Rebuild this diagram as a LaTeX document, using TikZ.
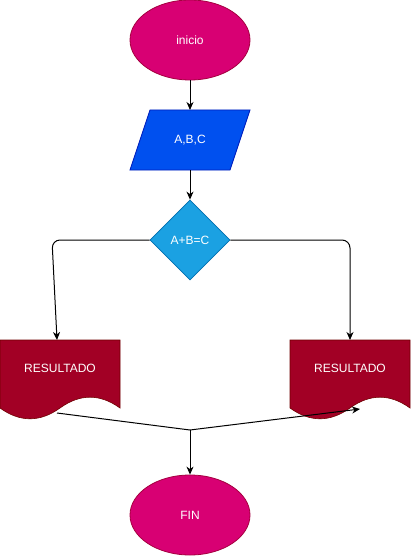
\documentclass[tikz,border=0pt]{standalone}
\usepackage{fontspec}
\setmainfont{Liberation Sans}
\usetikzlibrary{shapes.geometric,arrows.meta}
\definecolor{magfill}{HTML}{D80073}
\definecolor{magline}{HTML}{A50040}
\definecolor{bluefill}{HTML}{0050EF}
\definecolor{blueline}{HTML}{001DBC}
\definecolor{cyanfill}{HTML}{1BA1E2}
\definecolor{cyanline}{HTML}{006EAF}
\definecolor{docfill}{HTML}{A20025}
\definecolor{docline}{HTML}{6F0000}
\tikzset{
  lbl/.style={text=white,font=\fontsize{12}{14}\selectfont,inner sep=0pt},
  term/.style={ellipse,draw=magline,fill=magfill,minimum width=120pt,minimum height=80pt,inner sep=0pt,line width=0.8pt,text=white,font=\fontsize{12}{14}\selectfont},
  dec/.style={diamond,draw=cyanline,fill=cyanfill,minimum width=80pt,minimum height=80pt,inner sep=0pt,line width=0.8pt,text=white,font=\fontsize{12}{14}\selectfont},
  conn/.style={draw=black,line width=1pt,-{Stealth[length=8pt,width=7pt,inset=2.5pt]}},
  plain/.style={draw=black,line width=1pt},
  docshape/.style={fill=docfill,draw=docline,line width=0.6pt},
  io/.style={fill=bluefill,draw=blueline,line width=0.8pt}
}
\begin{document}
\begin{tikzpicture}[x=1pt,y=-1pt]
\useasboundingbox (0,0) rectangle (411,556);
% start
\node[term] (ini) at (190,40) {inicio};
% input parallelogram
\path[io] (150,110) -- (250,110) -- (230,170) -- (130,170) -- cycle;
\node[lbl] (abc) at (190,140) {A,B,C};
\coordinate (abctop) at (190,110);
\coordinate (abcbot) at (190,170);
% decision
\node[dec] (dec) at (190,240) {A+B=C};
% documents
\path[docshape] (0,340) -- (120,340) -- (120,408) .. controls (100,393.6) and (80,393.6) .. (60,408) .. controls (40,422.4) and (20,422.4) .. (0,408) -- cycle;
\node[lbl] (res1) at (60,368) {RESULTADO};
\path[docshape] (290,340) -- (410,340) -- (410,408) .. controls (390,393.6) and (370,393.6) .. (350,408) .. controls (330,422.4) and (310,422.4) .. (290,408) -- cycle;
\node[lbl] (res2) at (350,368) {RESULTADO};
\coordinate (lin) at (57,340);
\coordinate (rin) at (350,340);
\coordinate (lcorner) at (52,240);
\coordinate (rcorner) at (350,240);
\coordinate (lout) at (57,413);
\coordinate (join) at (190,430);
\coordinate (rtip) at (360,409);
% end
\node[term] (fin) at (190,515) {FIN};
% connectors
\draw[conn] (ini.south) -- (abctop);
\draw[conn] (abcbot) -- (dec.north);
\draw[conn,rounded corners=8pt] (dec.west) -- (lcorner) -- (lin);
\draw[conn,rounded corners=8pt] (dec.east) -- (rcorner) -- (rin);
\draw[conn] (lout) -- (join) -- (rtip);
\draw[conn] (join) -- (fin.north);
\end{tikzpicture}
\end{document}
